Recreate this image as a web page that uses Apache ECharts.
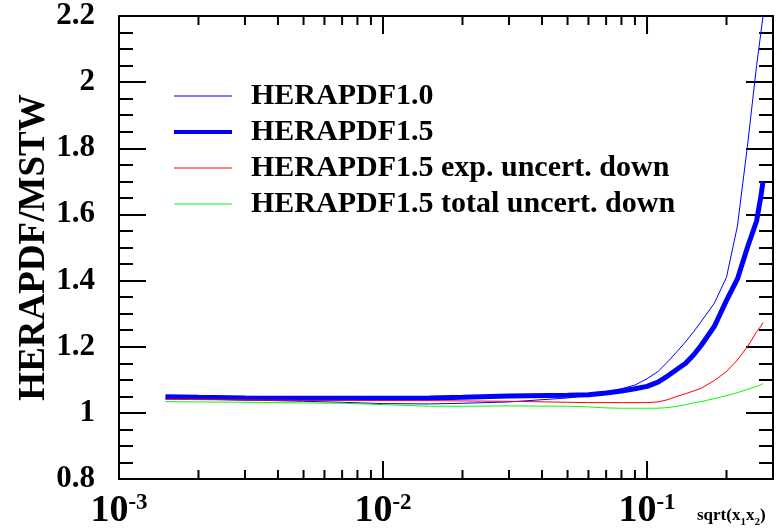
<!DOCTYPE html>
<html>
<head>
<meta charset="utf-8">
<script src="https://cdn.jsdelivr.net/npm/echarts@6/dist/echarts.min.js"></script>
<style>
  html, body { margin: 0; padding: 0; background: #fff; }
  #chart { width: 782px; height: 530px; }
</style>
</head>
<body>
<div id="chart"></div>
<script>
// sqrt(x1 x2) sample points shared by all curves
const xs = [0.0015, 0.002, 0.003, 0.005, 0.007, 0.01, 0.015, 0.02, 0.03, 0.05, 0.06, 0.07, 0.08, 0.09,
  0.1, 0.11, 0.12, 0.13, 0.14, 0.15, 0.16, 0.18, 0.2, 0.22, 0.24, 0.26, 0.27, 0.275];

const hera10 = [1.044, 1.042, 1.039, 1.035, 1.032, 1.028, 1.027, 1.029, 1.033, 1.045, 1.053, 1.062, 1.073, 1.084,
  1.103, 1.125, 1.155, 1.186, 1.215, 1.245, 1.275, 1.332, 1.41, 1.565, 1.806, 2.05, 2.15, 2.20];
const hera15 = [1.049, 1.047, 1.045, 1.044, 1.044, 1.044, 1.045, 1.047, 1.051, 1.053, 1.055, 1.060, 1.066, 1.073,
  1.080, 1.093, 1.112, 1.132, 1.150, 1.175, 1.203, 1.262, 1.340, 1.405, 1.50, 1.58, 1.655, 1.70];
const expDown = [1.041, 1.040, 1.039, 1.038, 1.038, 1.037, 1.037, 1.036, 1.035, 1.032, 1.031, 1.031, 1.031, 1.031,
  1.031, 1.033, 1.040, 1.050, 1.058, 1.066, 1.074, 1.098, 1.125, 1.16, 1.20, 1.245, 1.262, 1.273];
const totDown = [1.034, 1.033, 1.032, 1.030, 1.029, 1.025, 1.020, 1.020, 1.021, 1.020, 1.018, 1.015, 1.014, 1.014,
  1.014, 1.014, 1.016, 1.020, 1.025, 1.030, 1.034, 1.043, 1.052, 1.061, 1.071, 1.080, 1.085, 1.089];

const seriesNames = ['HERAPDF1.0', 'HERAPDF1.5', 'HERAPDF1.5 exp. uncert. down', 'HERAPDF1.5 total uncert. down'];
const seriesColors = ['#0000ff', '#0000ff', '#ff0000', '#00ff00'];
const seriesWidths = [1, 5, 1, 1];

const xMajorTicks = [0.001, 0.01, 0.1];
const xMinorTicks = [0.002, 0.003, 0.004, 0.005, 0.006, 0.007, 0.008, 0.009,
  0.02, 0.03, 0.04, 0.05, 0.06, 0.07, 0.08, 0.09, 0.2];

const serif = 'Liberation Serif';
const pair = ys => xs.map((x, i) => [x, ys[i]]);
const allCurves = [hera10, hera15, expDown, totDown];

const tickData = xMajorTicks.map(v => [v, 1, 1]).concat(xMinorTicks.map(v => [v, 1, 0]));

const chart = echarts.init(document.getElementById('chart'));

const yAxisBase = {
  type: 'value',
  min: 0.8,
  max: 2.2,
  interval: 0.2,
  splitLine: { show: false },
  axisLine: { show: true, onZero: false, lineStyle: { color: '#000', width: 2 } },
  axisTick: { show: true, inside: true, length: 27, lineStyle: { color: '#000', width: 2 } },
  minorTick: { show: true, splitNumber: 4, length: 14, lineStyle: { color: '#000', width: 2 } },
  minorSplitLine: { show: false }
};

const option = {
  animation: false,
  backgroundColor: '#fff',
  grid: { left: 119, right: 9, top: 16, bottom: 49, containLabel: false },
  legend: {
    data: seriesNames.map((name, i) => ({
      name: name,
      itemStyle: { opacity: 0 },
      lineStyle: { color: seriesColors[i], width: i === 1 ? 4 : 1 }
    })),
    orient: 'vertical',
    left: 172,
    top: 81,
    padding: 0,
    itemWidth: 58,
    itemHeight: 15,
    itemGap: 6,
    selectedMode: false,
    textStyle: {
      fontFamily: serif, fontWeight: 'bold', fontSize: 30, color: '#000',
      lineHeight: 30, padding: [0, 0, 0, 14]
    }
  },
  xAxis: [
    {
      type: 'log',
      logBase: 10,
      min: 0.001,
      max: 0.3,
      position: 'bottom',
      splitLine: { show: false },
      axisLine: { show: true, onZero: false, lineStyle: { color: '#000', width: 2 } },
      axisTick: { show: false },
      axisLabel: {
        show: true,
        margin: 13,
        showMinLabel: true,
        showMaxLabel: false,
        formatter: v => {
          const e = Math.log10(v);
          if (Math.abs(e - Math.round(e)) > 1e-6) return '';
          return '{b|10}{s|' + Math.round(e) + '}';
        },
        rich: {
          b: { fontFamily: serif, fontWeight: 'bold', fontSize: 38, color: '#000', lineHeight: 38 },
          s: { fontFamily: serif, fontWeight: 'bold', fontSize: 23, color: '#000', lineHeight: 23, verticalAlign: 'top' }
        }
      }
    },
    {
      type: 'log',
      logBase: 10,
      min: 0.001,
      max: 0.3,
      position: 'top',
      splitLine: { show: false },
      axisLine: { show: true, onZero: false, lineStyle: { color: '#000', width: 2 } },
      axisTick: { show: false },
      axisLabel: { show: false }
    }
  ],
  yAxis: [
    Object.assign({}, yAxisBase, {
      position: 'left',
      name: 'HERAPDF/MSTW',
      nameLocation: 'middle',
      nameRotate: 90,
      nameGap: 66,
      nameMoveOverlap: false,
      nameTextStyle: { fontFamily: serif, fontWeight: 'bold', fontSize: 37, color: '#000' },
      axisLabel: { show: true, margin: 24, fontFamily: serif, fontWeight: 'bold', fontSize: 31, color: '#000' }
    }),
    Object.assign({}, yAxisBase, {
      position: 'right',
      axisLabel: { show: false }
    })
  ],
  graphic: [
    {
      type: 'text',
      left: 697,
      top: 507,
      style: {
        text: '{a|sqrt(x}{u|1}{a|x}{u|2}{a|)}',
        rich: {
          a: { fontFamily: serif, fontWeight: 'bold', fontSize: 17, fill: '#000', lineHeight: 20 },
          u: { fontFamily: serif, fontWeight: 'bold', fontSize: 11, fill: '#000', lineHeight: 24, verticalAlign: 'bottom' }
        }
      }
    }
  ],
  series: seriesNames.map((name, i) => ({
    name: name,
    type: 'line',
    xAxisIndex: 0,
    yAxisIndex: 0,
    data: pair(allCurves[i]),
    symbol: 'none',
    smooth: false,
    color: seriesColors[i],
    lineStyle: { color: seriesColors[i], width: seriesWidths[i] },
    z: 3
  })).concat([{
    // log-axis ticks (bottom and top), placed via the axis scale
    type: 'custom',
    xAxisIndex: 0,
    yAxisIndex: 0,
    silent: true,
    z: 5,
    encode: { x: 0, y: 1 },
    data: tickData,
    renderItem: (params, api) => {
      const pt = api.coord([api.value(0), 1]);
      const cs = params.coordSys;
      const len = api.value(2) ? 18 : 9;
      const bottom = cs.y + cs.height;
      const style = { stroke: '#000', lineWidth: 2 };
      return {
        type: 'group',
        children: [
          { type: 'line', shape: { x1: pt[0], y1: bottom, x2: pt[0], y2: bottom - len }, style: style },
          { type: 'line', shape: { x1: pt[0], y1: cs.y, x2: pt[0], y2: cs.y + len }, style: style }
        ]
      };
    }
  }])
};

chart.setOption(option);
</script>
</body>
</html>
